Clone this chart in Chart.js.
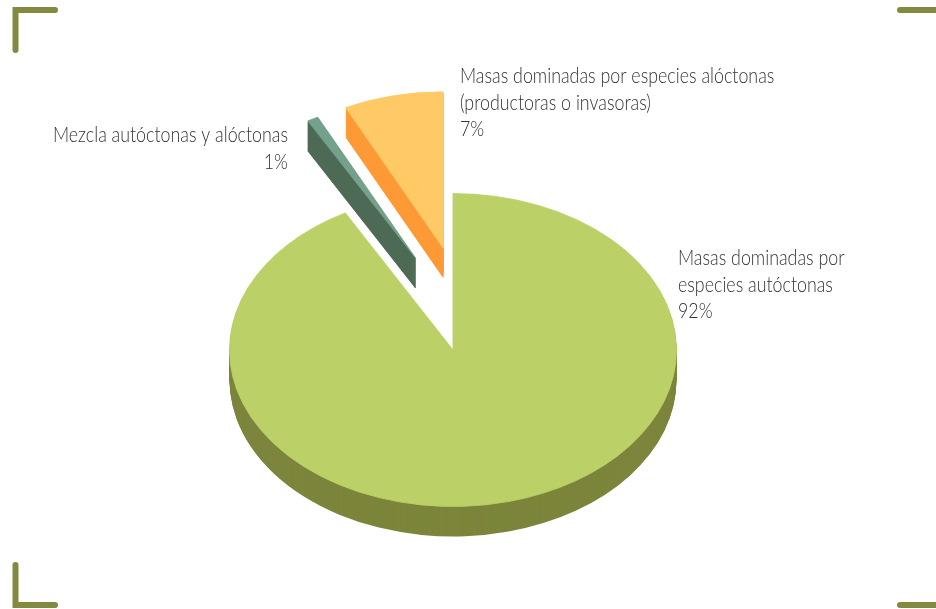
<!DOCTYPE html>
<html>
<head>
<meta charset="utf-8">
<title>Masas forestales</title>
<script src="https://cdn.jsdelivr.net/npm/chart.js@4"></script>
<style>
    html, body { margin: 0; padding: 0; background: #fff; }
    canvas { display: block; }
</style>
</head>
<body>
<canvas id="pieChart" width="936" height="609"></canvas>
<script>
// datos del gráfico
const categories = [
    'Masas dominadas por especies autóctonas',
    'Mezcla autóctonas y alóctonas',
    'Masas dominadas por especies alóctonas (productoras o invasoras)'
];
const values = [92, 0.8, 7.2];
const labelLines = [
    ['Masas dominadas por', 'especies autóctonas'],
    ['Mezcla autóctonas y alóctonas'],
    ['Masas dominadas por especies alóctonas', '(productoras o invasoras)']
];
const topColors = ['#bbd067', '#74a18b', '#ffc966'];
const sideColors = ['#7c853b', '#4d6a55', '#fe9a36'];

// aspecto de la perspectiva
const center = { x: 453, y: 350 };
const tilt = 0.7;
const depth = 30;
const explode = [[0, 0], [-37.5, -92], [-9.7, -101.7]];
// solo la porción fina necesita borde en el lateral, si no el vértice se difumina
const sideBorder = [0, 1, 0];
const labelPos = [
    { x: 678, y: 265, align: 'left' },
    { x: 288, y: 142, align: 'right' },
    { x: 460, y: 83, align: 'left' }
];
const lineHeight = 26.5;
const textScaleX = 0.81;
const bracketColor = '#83893f';

const drawSlice = (ctx, arc, i, dy, color, border) => {
    const saved = arc.options;
    arc.options = { ...saved, backgroundColor: color, borderColor: color, borderWidth: border };
    ctx.save();
    ctx.translate(center.x + explode[i][0], center.y + explode[i][1] + dy);
    ctx.scale(1, tilt);
    ctx.translate(-arc.x, -arc.y);
    arc.draw(ctx);
    ctx.restore();
    arc.options = saved;
};

// dibuja la tarta inclinada con su grosor, usando los arcos de Chart.js
const pie3d = {
    id: 'pie3d',
    beforeDatasetDraw(chart, args) {
        const ctx = chart.ctx;
        const arcs = args.meta.data;
        arcs.forEach((arc, i) => {
            for (let d = depth; d > 0; d--) drawSlice(ctx, arc, i, d, sideColors[i], sideBorder[i]);
            drawSlice(ctx, arc, i, 0, topColors[i], 1);
        });
        return false;
    }
};

const sliceLabels = {
    id: 'sliceLabels',
    afterDraw(chart) {
        const ctx = chart.ctx;
        const total = values.reduce((a, b) => a + b, 0);
        ctx.save();
        ctx.font = '300 22px Lato';
        ctx.fillStyle = '#333333';
        ctx.textBaseline = 'alphabetic';
        labelLines.forEach((lines, i) => {
            const pos = labelPos[i];
            const rows = [...lines, `${Math.round(values[i] / total * 100)}%`];
            rows.forEach((row, r) => {
                ctx.save();
                ctx.translate(pos.x, pos.y + r * lineHeight);
                ctx.scale(textScaleX, 1);
                ctx.textAlign = pos.align;
                ctx.fillText(row, 0, 0);
                ctx.restore();
            });
        });
        ctx.restore();
    }
};

const brackets = {
    id: 'brackets',
    afterDraw(chart) {
        const ctx = chart.ctx;
        ctx.save();
        ctx.strokeStyle = bracketColor;
        ctx.lineWidth = 6;
        ctx.lineCap = 'round';
        ctx.lineJoin = 'miter';
        [
            [[15.5, 50], [15.5, 10], [55, 10]],
            [[15.5, 565], [15.5, 605], [55, 605]],
            [[900, 10], [940, 10]],
            [[900, 605], [940, 605]]
        ].forEach(points => {
            ctx.beginPath();
            points.forEach((p, i) => i ? ctx.lineTo(p[0], p[1]) : ctx.moveTo(p[0], p[1]));
            ctx.stroke();
        });
        ctx.restore();
    }
};

new Chart(document.getElementById('pieChart').getContext('2d'), {
    type: 'pie',
    data: {
        labels: categories,
        datasets: [{
            data: values,
            backgroundColor: topColors,
            borderWidth: 0,
            radius: 223.5
        }]
    },
    options: {
        responsive: false,
        animation: false,
        events: [],
        plugins: {
            legend: { display: false },
            tooltip: { enabled: false }
        }
    },
    plugins: [pie3d, sliceLabels, brackets]
});
</script>
</body>
</html>
